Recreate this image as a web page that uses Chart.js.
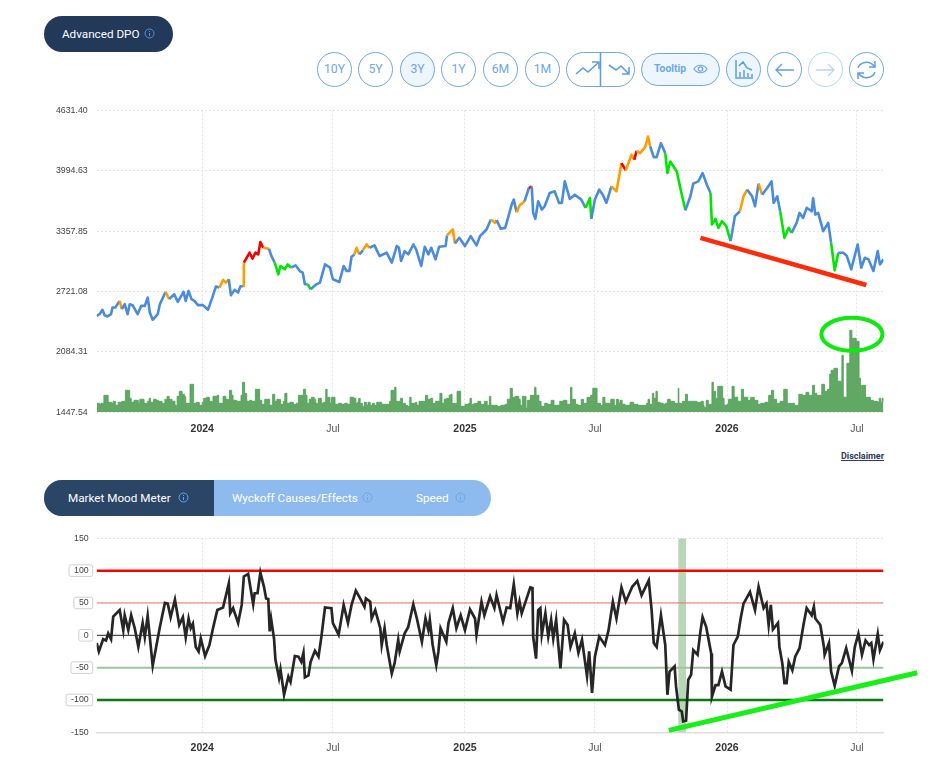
<!DOCTYPE html>
<html>
<head>
<meta charset="utf-8">
<title>Advanced DPO</title>
<script src="https://cdn.jsdelivr.net/npm/chart.js@4/dist/chart.umd.min.js"></script>
<style>
  html, body { margin: 0; padding: 0; background: #fff; }
  body { position: relative; width: 949px; height: 774px; overflow: hidden; font-family: Roboto, sans-serif; }
  canvas { position: absolute; left: 0; display: block; }
  .pill { position: absolute; left: 44px; top: 16px; width: 129px; height: 36px; border-radius: 18px; background: #22395a; }
  .lbl { position: absolute; font-size: 11.7px; line-height: 16px; white-space: nowrap; color: #fff; }
  .info { position: absolute; width: 11px; height: 11px; }
  .btn { position: absolute; top: 52px; width: 33px; height: 33px; border: 1.3px solid #6ea8ea; border-radius: 50%; color: #6ea8ea; font-size: 12.2px; line-height: 33px; text-align: center; background: #fff; }
  .btn.on { background: #edf5fd; }
  .btn.off { border-color: #b9d5f5; }
  .btn svg, .wide svg { position: absolute; left: 0; top: 0; }
  .wide { position: absolute; border: 1.3px solid #6ea8ea; border-radius: 18px; box-sizing: border-box; }
  .tabs { position: absolute; left: 44px; top: 480px; width: 447px; height: 36px; border-radius: 18px; background: #8dbbf0; overflow: hidden; }
  .tabs div { width: 170px; height: 36px; background: #2a4565; }
  .disc { position: absolute; right: 65px; top: 450px; font-size: 9px; line-height: 12px; font-weight: 700; color: #2a3a5a; text-decoration: underline; }
</style>
</head>
<body>

<div class="pill"></div>
<div class="lbl" style="left:62px;top:26px">Advanced DPO</div>
<svg class="info" style="left:144px;top:28px" viewBox="0 0 11 11"><circle cx="5.5" cy="5.5" r="4.5" fill="none" stroke="#4f93e0"/><path d="M5.5 5v3M5.5 3v1" stroke="#4f93e0"/></svg>

<div class="btn" style="left:317px">10Y</div>
<div class="btn" style="left:358px">5Y</div>
<div class="btn on" style="left:400px">3Y</div>
<div class="btn" style="left:441px">1Y</div>
<div class="btn" style="left:483px">6M</div>
<div class="btn" style="left:525px">1M</div>

<div class="wide" style="left:566px;top:52px;width:69px;height:35px">
  <svg width="67" height="33" fill="none" stroke="#5b9ee8" stroke-width="1.6">
    <path d="M9 21l7-6 5 4 10-9M25 9h7v7"/>
    <path d="M33.5 0v33"/>
    <path d="M42 12l7 5 5-4 8 8M62 14v7h-7"/>
  </svg>
</div>
<div class="wide" style="left:641px;top:53px;width:79px;height:33px;background:#edf5fd">
  <span style="position:absolute;left:12px;top:8px;font-size:10.4px;line-height:14px;font-weight:700;color:#6ea8ea">Tooltip</span>
  <svg width="77" height="31" fill="none" stroke="#6ea8ea" stroke-width="1.2">
    <path d="M52 15c3-5 10-5 13 0c-3 5-10 5-13 0z"/><circle cx="58.5" cy="15" r="2.2"/>
  </svg>
</div>
<div class="btn on" style="left:726px">
  <svg width="33" height="33" fill="none" stroke="#5b9ee8" stroke-width="1.5"><path d="M9 7v18h17M12 13l4-4 4 6 5 2M13 24v-5M17 24v-7M21 24v-4M25 24v-3"/></svg>
</div>
<div class="btn" style="left:767px">
  <svg width="33" height="33" fill="none" stroke="#5b9ee8" stroke-width="1.3"><path d="M26 17H8M14 11l-6 6 6 6"/></svg>
</div>
<div class="btn off" style="left:808px">
  <svg width="33" height="33" fill="none" stroke="#b9d5f5" stroke-width="1.3"><path d="M7 17h18M19 11l6 6-6 6"/></svg>
</div>
<div class="btn" style="left:849px">
  <svg width="33" height="33" fill="none" stroke="#5b9ee8" stroke-width="1.5"><path d="M8 15c2-6 11-8 16-2M25 8v6h-6M25 19c-2 6-11 8-16 2M8 26v-6h6"/></svg>
</div>

<canvas id="chartPrecio" width="949" height="340" style="top:100px;width:949px;height:340px"></canvas>

<div class="disc">Disclaimer</div>

<div class="tabs"><div></div></div>
<div class="lbl" style="left:68px;top:490px">Market Mood Meter</div>
<svg class="info" style="left:178px;top:492px" viewBox="0 0 11 11"><circle cx="5.5" cy="5.5" r="4.5" fill="none" stroke="#6aa5ea"/><path d="M5.5 5v3M5.5 3v1" stroke="#6aa5ea"/></svg>
<div class="lbl" style="left:232px;top:490px">Wyckoff Causes/Effects</div>
<svg class="info" style="left:362px;top:492px" viewBox="0 0 11 11"><circle cx="5.5" cy="5.5" r="4.5" fill="none" stroke="#6aa5ea"/><path d="M5.5 5v3M5.5 3v1" stroke="#6aa5ea"/></svg>
<div class="lbl" style="left:416px;top:490px">Speed</div>
<svg class="info" style="left:455px;top:492px" viewBox="0 0 11 11"><circle cx="5.5" cy="5.5" r="4.5" fill="none" stroke="#6aa5ea"/><path d="M5.5 5v3M5.5 3v1" stroke="#6aa5ea"/></svg>

<canvas id="chartMood" width="949" height="244" style="top:530px;width:949px;height:244px"></canvas>

<script>
// eje x en dias desde 2024-01-01
const tickDays = [0, 182, 366, 547, 731, 912];
const tickLabels = ["2024", "Jul", "2025", "Jul", "2026", "Jul"];
const priceTicks = [1447.54, 2084.31, 2721.08, 3357.85, 3994.63, 4631.40];
const moodTicks = [-150, -100, -50, 0, 50, 100, 150];
const boxedTicks = [-100, -50, 0, 50, 100];

const priceDays = [
  -147, -143, -139, -136, -132, -127, -125, -121, -115, -112, -108, -104, -101, -97, -90, -85, -80, -76, -73, -69, -62, -59, -51, -46, -39, -34, -26, -23, -19, -15, -11, -6,
  1, 8, 14, 19, 24, 29, 33, 37, 40, 45, 50, 53, 57, 58, 62, 66, 70, 74, 78, 81, 85, 93, 96, 101, 106, 109, 115, 119, 124, 130, 136, 140, 143, 147, 151, 159, 164, 171, 178,
  182, 191, 197, 201, 205, 208, 212, 215, 219, 224, 229, 233, 240, 247, 257, 264, 271, 274, 277, 282, 287, 294, 298, 305, 310, 315, 319, 325, 330, 339, 341, 349, 352, 358,
  366, 374, 382, 387, 396, 402, 408, 410, 416, 422, 426, 431, 434, 438, 442, 449, 455, 459, 461, 464, 468, 473, 477, 484, 491, 497, 501, 505, 512, 519, 528, 534, 540, 542,
  547, 553, 558, 563, 570, 577, 584, 590, 598, 602, 605, 610, 617, 621, 624, 629, 633, 639, 645, 648, 652, 661, 666, 673, 680, 684, 691, 697, 703, 708, 710, 715, 719, 724,
  730, 736, 742, 749, 754, 759, 766, 770, 775, 780, 787, 793, 796, 801, 805, 811, 817, 821, 828, 832, 837, 842, 849, 851, 854, 858, 865, 872, 876, 881, 886, 893, 898, 904,
  913, 918, 923, 928, 935, 941, 944, 949
];
const priceValues = [
  2465, 2482, 2528, 2471, 2458, 2482, 2552, 2552, 2622, 2535, 2587, 2482, 2587, 2577, 2482, 2570, 2570, 2657, 2500, 2423, 2482, 2587, 2717, 2640, 2692, 2612, 2717, 2622, 2727, 2640, 2622, 2577,
  2577, 2528, 2657, 2773, 2762, 2843, 2815, 2850, 2682, 2738, 2710, 2773, 2780, 3025, 3077, 3130, 3067, 3130, 3112, 3242, 3182, 3172, 3102, 3025, 2902, 2990, 2955, 3007, 2972, 2997, 2937, 2920, 2797, 2797, 2745, 2797, 2815, 3007, 2972,
  2850, 2822, 2990, 2937, 2937, 3088, 3112, 3182, 3112, 3158, 3217, 3182, 3207, 3095, 3130, 3025, 3200, 3182, 3042, 3147, 3112, 3217, 3165, 2990, 3193, 3112, 3182, 3060, 3193, 3200, 3312, 3375, 3228, 3287,
  3200, 3305, 3207, 3305, 3375, 3480, 3445, 3473, 3382, 3392, 3497, 3637, 3690, 3557, 3627, 3672, 3812, 3830, 3550, 3487, 3672, 3585, 3620, 3760, 3777, 3655, 3655, 3882, 3697, 3742, 3690, 3602, 3707, 3487,
  3690, 3795, 3742, 3655, 3830, 3777, 4075, 3998, 4162, 4110, 4204, 4180, 4243, 4355, 4250, 4138, 4138, 4285, 4180, 3970, 4092, 3987, 3812, 3578, 3725, 3858, 3882, 3970, 3847, 3760, 3427, 3487, 3392, 3462,
  3410, 3252, 3515, 3567, 3725, 3795, 3725, 3620, 3858, 3742, 3812, 3882, 3655, 3725, 3567, 3287, 3392, 3340, 3445, 3550, 3497, 3602, 3567, 3704, 3532, 3550, 3357, 3445, 3235, 2944, 3130, 3130, 3095, 2955,
  3217, 2972, 3077, 3060, 2937, 3147, 3007, 3060
];
const orangeSpans = [[-115, -112], [-51, -46], [22, 38], [57, 58], [85, 93], [212, 219], [224, 231], [341, 352], [400, 412], [440, 450], [505, 508], [570, 584], [587, 596], [600, 603], [606, 624], [751, 760], [773, 778]];
const redSpans = [[58, 85], [433, 435], [454, 459], [584, 587], [596, 599], [603, 606]];
const greenSpans = [[101, 122], [149, 151], [534, 542], [646, 673], [709, 738], [807, 819], [876, 886]];

const volumeDays = [
  -147, -143, -141, -137, -133, -131, -126, -124, -121, -117, -112, -108, -107, -103, -101, -99, -95, -90, -89, -87, -83, -81, -76, -74, -72, -68, -64, -61, -56, -52, -49, -46, -42, -38, -36, -35, -32, -28, -25, -23, -19, -17, -13, -12, -8, -4,
  0, 2, 6, 10, 14, 15, 21, 23, 27, 29, 33, 37, 38, 41, 43, 48, 53, 54, 56, 59, 62, 66, 69, 74, 78, 80, 83, 87, 91, 94, 98, 101, 104, 107, 109, 113, 115, 118, 122, 127, 131, 134, 137, 141, 144, 146, 149, 152, 156, 158, 162, 166, 169, 172, 174, 178,
  180, 183, 185, 190, 194, 198, 202, 206, 211, 214, 216, 218, 220, 223, 226, 229, 231, 234, 237, 240, 243, 247, 250, 257, 261, 263, 267, 268, 270, 275, 276, 279, 283, 286, 289, 291, 297, 299, 302, 306, 311, 314, 318, 321, 325, 328, 331, 334, 337, 340, 344, 346, 348, 353, 355, 359, 360,
  366, 371, 373, 375, 379, 384, 388, 393, 397, 400, 402, 407, 411, 416, 422, 425, 429, 432, 436, 441, 443, 446, 449, 451, 453, 457, 463, 465, 469, 472, 477, 481, 486, 490, 494, 498, 503, 508, 513, 515, 520, 523, 528, 531, 536, 541, 544, 547, 550, 555, 558, 561, 565, 569, 574, 577,
  580, 582, 585, 589, 596, 601, 607, 615, 619, 621, 623, 627, 629, 632, 634, 638, 642, 645, 648, 652, 658, 661, 663, 664, 669, 673, 676, 682, 689, 695, 698, 699, 702, 705, 710, 712, 715, 718, 722, 725, 727,
  731, 733, 738, 741, 746, 751, 754, 760, 764, 769, 774, 778, 784, 789, 793, 796, 800, 805, 810, 813, 815, 820, 825, 828, 831, 836, 841, 845, 850, 853, 856, 863, 867, 871, 874, 876, 880, 885, 889, 891, 893, 898, 902, 905, 911, 915, 917, 918, 924, 931, 935, 941, 943, 945, 947, 949
];
const volumeValues = [
  9, 8, 9, 17, 17, 10, 9, 11, 7, 10, 11, 11, 22, 22, 14, 10, 12, 12, 9, 13, 13, 9, 11, 14, 10, 13, 12, 11, 9, 13, 16, 13, 11, 7, 3, 16, 21, 18, 16, 9, 9, 28, 28, 9, 10, 7,
  10, 14, 15, 11, 8, 16, 17, 9, 9, 16, 13, 11, 22, 17, 12, 11, 11, 17, 30, 19, 11, 12, 11, 23, 23, 12, 8, 13, 13, 7, 18, 11, 13, 13, 8, 11, 19, 9, 10, 8, 9, 17, 17, 23, 17, 9, 13, 15, 13, 9, 14, 9, 10, 23, 15, 9,
  15, 15, 8, 9, 8, 9, 8, 15, 14, 9, 10, 14, 9, 6, 10, 7, 10, 7, 9, 7, 10, 10, 8, 8, 11, 22, 22, 25, 11, 9, 14, 9, 7, 6, 15, 9, 10, 7, 11, 11, 17, 13, 14, 9, 11, 11, 19, 9, 13, 14, 17, 18, 9, 9, 21, 21, 6,
  8, 9, 14, 8, 9, 11, 8, 11, 7, 16, 7, 7, 6, 7, 8, 13, 24, 15, 16, 13, 7, 16, 16, 4, 12, 17, 25, 17, 11, 6, 9, 8, 12, 7, 7, 11, 12, 8, 25, 13, 8, 7, 13, 9, 15, 17, 24, 24, 9, 7, 15, 9, 9, 13, 7, 13,
  9, 12, 8, 7, 10, 8, 7, 7, 9, 13, 8, 19, 14, 21, 10, 9, 8, 9, 13, 11, 9, 9, 24, 9, 11, 18, 11, 11, 10, 11, 7, 5, 12, 8, 30, 21, 14, 26, 26, 14, 7,
  8, 13, 26, 15, 11, 23, 15, 12, 15, 12, 8, 9, 10, 17, 22, 13, 9, 11, 23, 23, 9, 9, 7, 7, 18, 17, 20, 17, 27, 19, 17, 28, 21, 23, 38, 42, 44, 31, 31, 57, 15, 49, 82, 74, 71, 34, 14, 27, 15, 12, 11, 10, 14, 10, 14, 11
];

const moodDays = [
  -147, -144, -138, -134, -131, -127, -124, -115, -110, -108, -103, -99, -94, -89, -83, -80, -76, -69, -59, -52, -48, -44, -38, -32, -27, -23, -19, -16, -13, -9, -5, -2,
  4, 10, 15, 21, 29, 37, 39, 43, 50, 55, 58, 64, 71, 73, 77, 81, 86, 89, 92, 94, 96, 100, 102, 107, 109, 114, 120, 123, 129, 134, 138, 141, 143, 148, 151, 157, 162, 166, 171, 180,
  182, 190, 197, 203, 208, 214, 220, 226, 228, 234, 236, 241, 248, 250, 254, 257, 264, 268, 273, 275, 282, 287, 294, 299, 306, 311, 315, 317, 321, 326, 329, 332, 340, 343, 349, 354, 360,
  366, 373, 380, 382, 389, 393, 401, 407, 410, 419, 424, 429, 434, 439, 442, 445, 457, 460, 461, 465, 468, 471, 473, 478, 482, 486, 489, 493, 496, 499, 504, 509, 513, 519, 524, 529, 536, 539, 543,
  547, 553, 561, 566, 572, 577, 584, 590, 599, 606, 612, 622, 626, 629, 633, 639, 645, 648, 651, 658, 660, 664, 668, 670, 674, 677, 681, 684, 690, 694, 697, 702, 709, 710, 715, 719, 724, 729,
  736, 740, 746, 750, 754, 763, 770, 775, 782, 786, 789, 792, 795, 802, 804, 808, 811, 814, 817, 822, 826, 832, 838, 842, 849, 852, 854, 861, 866, 867, 873, 876, 881, 887, 891, 897, 905, 909,
  914, 919, 924, 929, 932, 935, 941, 944, 949
];
const moodValues = [
  -12, -25, -6, -8, 3, -6, 29, 39, 8, 31, 8, 31, 11, -18, 19, -3, 30, -47, 13, 50, 49, 28, 55, 16, 28, -3, 26, 11, 18, -18, -25, -5,
  -32, -15, 11, 39, 43, 80, 34, 42, 19, 47, 91, 95, 48, 65, 65, 97, 75, 57, 56, 6, 25, -5, -38, -66, -53, -92, -64, -72, -32, -33, -41, -27, -65, -62, -41, -24, -33, -2, 43, 42,
  19, 1, 47, 19, 47, 69, 57, 44, 57, 52, 26, 39, 11, -15, 11, -15, -59, -43, -7, -25, 3, 13, 48, 26, -10, 26, 8, 24, -15, -46, -25, 11, -10, 19, 42, 11, 31,
  8, 40, 26, 1, 52, 31, 60, 42, 62, 21, 43, 42, 79, 34, 52, 34, 74, 73, -2, -36, 39, 42, 1, 34, -2, 24, -5, 24, -15, -51, 24, 16, -18, 3, -27, -7, -63, -25, -89,
  -33, -2, -15, 8, 52, 26, 74, 52, 75, 84, 62, 85, 39, -12, -18, 31, -15, -92, -56, -48, -79, -115, -118, -133, -132, -69, -61, -23, -30, 6, 28, 13, -28, -95, -77, -77, -56, -79,
  -84, -15, -2, 26, 49, 67, 39, 75, 42, 49, 16, 47, 9, 19, -18, -43, -74, -74, -41, -54, -33, -20, 19, 42, 31, 44, 26, 16, -18, -30, -12, -56, -78, -48, -43, -20, -55, -18,
  2, -30, -8, -15, -12, -37, 2, -23, -10
];

// marcas dibujadas a mano sobre el grafico
const redTrendDays = [694, 925];
const redTrendValues = [3287, 2790];
const greenTrendDays = [650, 996];
const greenTrendValues = [-147, -58];
const bandDays = [663, 674];
const ringCenter = [905, 78];
const levelValues = [100, 50, 0, -50, -100];
const levelColors = ["#ff0000", "#f07070", "#222222", "#98c998", "#0a7a14"];
const levelWidths = [2.5, 1, 1, 2, 2.5];

const X_MIN = -147;
const X_MAX = 949;
const fontAxis = "'Liberation Sans', Arial, sans-serif";

function pares(xs, ys) {
  return xs.map((x, i) => ({ x, y: ys[i] }));
}

function enSpan(spans, v) {
  return spans.some((s) => v >= s[0] && v <= s[1]);
}

function colorPrecio(ctx) {
  const mid = (ctx.p0.parsed.x + ctx.p1.parsed.x) / 2;
  if (enSpan(redSpans, mid)) return "#f30000";
  if (enSpan(orangeSpans, mid)) return "#ff9c00";
  if (enSpan(greenSpans, mid)) return "#00e600";
  return "#4a8bdc";
}

function esJul(ctx) {
  return ctx.tick && tickLabels[tickDays.indexOf(ctx.tick.value)] === "Jul";
}

function ejeX(altura, padding, conBorde) {
  return {
    type: "linear",
    min: X_MIN,
    max: X_MAX,
    afterBuildTicks: (scale) => {
      scale.ticks = tickDays.map((v) => ({ value: v }));
    },
    afterFit: (scale) => {
      scale.height = altura;
    },
    grid: { color: "#e4e4e4", drawTicks: false },
    border: { display: conBorde, color: "#dedede", width: 1.5, dash: [2, 2] },
    ticks: {
      autoSkip: false,
      maxRotation: 0,
      padding: padding,
      color: (ctx) => (esJul(ctx) ? "#555" : "#333"),
      font: (ctx) => ({
        family: fontAxis,
        size: 10.5,
        weight: esJul(ctx) ? "normal" : "bold",
      }),
      callback: (v) => tickLabels[tickDays.indexOf(v)],
    },
  };
}

function ejeY(min, max, marcas, fmt, pad) {
  return {
    min,
    max,
    afterBuildTicks: (scale) => {
      scale.ticks = marcas.map((v) => ({ value: v }));
    },
    afterFit: (scale) => {
      scale.width = 96.7;
      scale.paddingTop = 0;
      scale.paddingBottom = 0;
    },
    grid: { color: "#e4e4e4", drawTicks: false },
    border: { display: false, dash: [2, 2] },
    ticks: { padding: pad, color: "#444", font: { family: fontAxis, size: 8.8 }, callback: fmt },
  };
}

const anillo = {
  id: "anillo",
  afterDraw(chart) {
    const c = chart.ctx;
    const px = chart.scales.x.getPixelForValue(ringCenter[0]);
    const py = chart.scales.yVol.getPixelForValue(ringCenter[1]);
    c.save();
    c.strokeStyle = "#0dea0d";
    c.lineWidth = 4;
    c.beginPath();
    c.ellipse(px, py, 30.5, 16.5, 0, 0, Math.PI * 2);
    c.stroke();
    c.restore();
  },
};

const cajas = {
  id: "cajas",
  afterDraw(chart) {
    const c = chart.ctx;
    const y = chart.scales.y;
    c.save();
    c.font = "8.8px " + fontAxis;
    c.strokeStyle = "#cfcfcf";
    c.lineWidth = 1;
    boxedTicks.forEach((v) => {
      const w = c.measureText(String(v)).width + 9;
      c.beginPath();
      c.roundRect(92.7 - w, y.getPixelForValue(v) - 5.8, w, 11.6, 2);
      c.stroke();
    });
    c.restore();
  },
};

new Chart(document.getElementById("chartPrecio"), {
  type: "line",
  data: {
    datasets: [
      {
        data: pares(redTrendDays, redTrendValues),
        borderColor: "#ff2a0a",
        borderWidth: 4.5,
        pointRadius: 0,
        borderCapStyle: "butt",
      },
      {
        data: pares(priceDays, priceValues),
        borderWidth: 2.6,
        pointRadius: 0,
        borderJoinStyle: "round",
        segment: { borderColor: colorPrecio },
      },
      {
        data: pares(volumeDays, volumeValues),
        yAxisID: "yVol",
        stepped: true,
        borderColor: "#4f9e55",
        borderWidth: 0.8,
        backgroundColor: "#62a865",
        fill: "origin",
        pointRadius: 0,
      },
    ],
  },
  options: {
    responsive: false,
    animation: false,
    layout: { padding: { top: 10.3, right: 65.5, left: 0, bottom: 0 } },
    plugins: { legend: { display: false }, tooltip: { enabled: false } },
    scales: {
      x: ejeX(27.7, 11, false),
      y: ejeY(priceTicks[0], priceTicks[5], priceTicks, (v) => v.toFixed(2), 9),
      yVol: { display: false, min: 0, max: 302 },
    },
  },
  plugins: [anillo],
});

new Chart(document.getElementById("chartMood"), {
  type: "line",
  data: {
    datasets: [
      {
        data: pares(greenTrendDays, greenTrendValues),
        borderColor: "#17f017",
        borderWidth: 5,
        pointRadius: 0,
        clip: false,
      },
      {
        data: pares(moodDays, moodValues),
        borderColor: "#262626",
        borderWidth: 2.7,
        pointRadius: 0,
      },
      ...levelValues.map((v, i) => ({
        data: pares([X_MIN, X_MAX], [v, v]),
        borderColor: levelColors[i],
        borderWidth: levelWidths[i],
        pointRadius: 0,
      })),
      {
        data: pares(bandDays, [150, 150]),
        borderWidth: 0,
        pointRadius: 0,
        backgroundColor: "rgba(104,172,104,0.48)",
        fill: { value: -150 },
      },
    ],
  },
  options: {
    responsive: false,
    animation: false,
    layout: { padding: { top: 8.3, right: 65.5, left: 0, bottom: 0 } },
    plugins: { legend: { display: false }, tooltip: { enabled: false } },
    scales: {
      x: ejeX(41.7, 10, true),
      y: ejeY(-150, 150, moodTicks, (v) => String(v), 8),
    },
  },
  plugins: [cajas],
});
</script>
</body>
</html>
